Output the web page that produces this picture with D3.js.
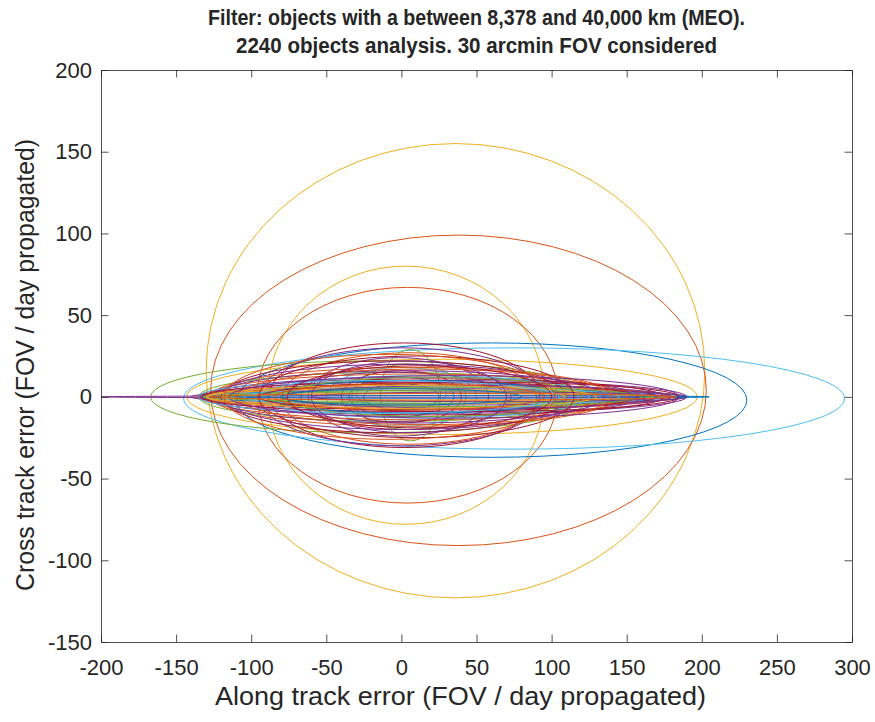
<!DOCTYPE html>
<html>
<head>
<meta charset="utf-8">
<script src="https://cdn.jsdelivr.net/npm/d3@7/dist/d3.min.js"></script>
<style>
  html, body { margin: 0; padding: 0; background: #fff; }
  svg { display: block; }
  text { font-family: "Liberation Sans", Arial, Helvetica, sans-serif; fill: #262626; }
</style>
</head>
<body>
<svg id="chart" width="875" height="722"></svg>
<script>
// ---- Data ----
const titleLines = [
  "Filter: objects with a between 8,378 and 40,000 km (MEO).",
  "2240 objects analysis. 30 arcmin FOV considered"
];
const xLabel = "Along track error (FOV / day propagated)";
const yLabel = "Cross track error (FOV / day propagated)";
const xTicks = [-200, -150, -100, -50, 0, 50, 100, 150, 200, 250, 300];
const yTicks = [-150, -100, -50, 0, 50, 100, 150, 200];
const xDomain = [-200, 300];
const yDomain = [-150, 200];

// Each ellipse: centre along-track, centre cross-track, semi-axis along, semi-axis cross, series colour index
const ellCx = [36, 38, 3, 4, 60, 75, 27, -20, -5,
  2, 0, 5, -2, 6, 5, 0, 0, 0, 3, -5, 0, 0,
  30, 25, 28, -5, 40, 20, 15, 22, 18, 10, 25, 12, 20, 5, 8, 0, -5, 15, 10, 30, 25, 20, -10, 40, 20, 60, 50, 45, 0, -15, 5, 0,
  10, 15, 35, 5, -8, 12, 28];
const ellCy = [16, 4, 1, 1, -2, -1, 0, 0, 0,
  1, 0, -1, 0, 1, 0, 0, 0, 0, 0, 0, 0, 2,
  0, 0, 0, 0, 0, 0, 0, 0, 0, 0, 0, 0, 0, 0, 0, 0, 0, 0, 0, 0, 0, 0, 0, 0, 0, 0, 0, 0, 0, 0, 0, 0,
  0, 0, 0, 0, 0, 0, 0];
const ellRx = [166, 165, 92, 100, 170, 220, 170, 147, 130,
  90, 95, 85, 60, 20, 38, 50, 35, 25, 70, 75, 40, 30,
  160, 160, 163, 195, 165, 150, 145, 158, 150, 140, 165, 145, 155, 130, 135, 120, 115, 110, 100, 150, 140, 125, 120, 120, 100, 120, 130, 140, 130, 120, 90, 80,
  105, 125, 150, 65, 110, 88, 155];
const ellRy = [139, 95, 79, 66, 35, 31, 23, 22, 15,
  32, 30, 28, 24, 28, 20, 18, 12, 8, 20, 15, 16, 10,
  10, 6, 4, 0.6, 0.8, 8, 12, 7, 3, 14, 5, 9, 11, 16, 18, 20, 22, 13, 10, 2, 4, 6, 5, 6, 12, 3, 7, 9, 7, 10, 8, 5,
  25, 17, 13, 22, 26, 19, 2];
const ellSeries = [2, 1, 2, 1, 0, 5, 2, 4, 4,
  6, 3, 1, 3, 4, 4, 5, 0, 0, 6, 3, 6, 5,
  3, 1, 0, 3, 0, 6, 3, 1, 4, 1, 3, 6, 6, 3, 1, 3, 6, 5, 0, 2, 4, 5, 2, 4, 4, 3, 3, 6, 2, 5, 1, 0,
  6, 1, 3, 3, 1, 6, 1];

// MATLAB default colour order
const seriesColors = ["#0072BD", "#D95319", "#EDB120", "#7E2F8E", "#77AC30", "#4DBEEE", "#A2142F"];

// ---- Layout ----
const W = 875, H = 722;
const plot = { left: 101, right: 852, top: 70, bottom: 642 };

const svg = d3.select("#chart");
const x = d3.scaleLinear().domain(xDomain).range([plot.left, plot.right]);
const y = d3.scaleLinear().domain(yDomain).range([plot.bottom, plot.top]);
const color = d3.scaleOrdinal().domain(d3.range(seriesColors.length)).range(seriesColors);

svg.append("rect").attr("width", W).attr("height", H).attr("fill", "#fff");

svg.append("defs").append("clipPath").attr("id", "clip")
  .append("rect")
  .attr("x", plot.left).attr("y", plot.top)
  .attr("width", plot.right - plot.left).attr("height", plot.bottom - plot.top);

// ---- Ellipses ----
const ellipses = ellCx.map((cx, i) => ({ cx, cy: ellCy[i], rx: ellRx[i], ry: ellRy[i], s: ellSeries[i] }));
const gE = svg.append("g").attr("clip-path", "url(#clip)");
gE.selectAll("ellipse")
  .data(ellipses)
  .join("ellipse")
  .attr("cx", d => x(d.cx))
  .attr("cy", d => y(d.cy))
  .attr("rx", d => Math.abs(x(d.cx + d.rx) - x(d.cx)))
  .attr("ry", d => Math.abs(y(d.cy + d.ry) - y(d.cy)))
  .attr("fill", "none")
  .attr("stroke", d => color(d.s))
  .attr("stroke-width", 1);

// ---- Axes (box with inward ticks on all sides) ----
const tickLen = 7.5;
const axisColor = "#262626";
const fontSize = 22;
const fmt = d => String(d);   // plain hyphen-minus like the reference

const xAxisB = d3.axisBottom(x).tickValues(xTicks).tickSizeInner(-tickLen).tickSizeOuter(0).tickPadding(17).tickFormat(fmt);
const xAxisT = d3.axisTop(x).tickValues(xTicks).tickSizeInner(-tickLen).tickSizeOuter(0).tickFormat("");
const yAxisL = d3.axisLeft(y).tickValues(yTicks).tickSizeInner(-tickLen).tickSizeOuter(0).tickPadding(9).tickFormat(fmt);
const yAxisR = d3.axisRight(y).tickValues(yTicks).tickSizeInner(-tickLen).tickSizeOuter(0).tickFormat("");

function styleAxis(g) {
  g.select(".domain").attr("stroke", axisColor).attr("stroke-width", 0.8);
  g.selectAll(".tick line").attr("stroke", axisColor).attr("stroke-width", 0.8);
  g.selectAll(".tick text").attr("fill", axisColor).attr("font-size", fontSize)
    .attr("font-family", "'Liberation Sans', Arial, sans-serif");
}
svg.append("g").attr("transform", `translate(0,${plot.bottom})`).call(xAxisB).call(styleAxis);
svg.append("g").attr("transform", `translate(0,${plot.top})`).call(xAxisT).call(styleAxis);
svg.append("g").attr("transform", `translate(${plot.left},0)`).call(yAxisL).call(styleAxis);
svg.append("g").attr("transform", `translate(${plot.right},0)`).call(yAxisR).call(styleAxis);

// ---- Title ----
const cxPlot = (plot.left + plot.right) / 2;
svg.append("text").attr("x", cxPlot).attr("y", 25)
  .attr("text-anchor", "middle").attr("font-size", 22).attr("font-weight", "bold")
  .attr("textLength", 537).attr("lengthAdjust", "spacingAndGlyphs")
  .text(titleLines[0]);
svg.append("text").attr("x", cxPlot).attr("y", 53)
  .attr("text-anchor", "middle").attr("font-size", 22).attr("font-weight", "bold")
  .attr("textLength", 481).attr("lengthAdjust", "spacingAndGlyphs")
  .text(titleLines[1]);

// ---- Axis labels ----
svg.append("text").attr("x", (215 + 706) / 2).attr("y", 705)
  .attr("text-anchor", "middle").attr("font-size", 26)
  .attr("textLength", 491).attr("lengthAdjust", "spacingAndGlyphs")
  .text(xLabel);
svg.append("text")
  .attr("transform", `translate(34,365) rotate(-90)`)
  .attr("text-anchor", "middle").attr("font-size", 26)
  .attr("textLength", 452).attr("lengthAdjust", "spacingAndGlyphs")
  .text(yLabel);
</script>
</body>
</html>
